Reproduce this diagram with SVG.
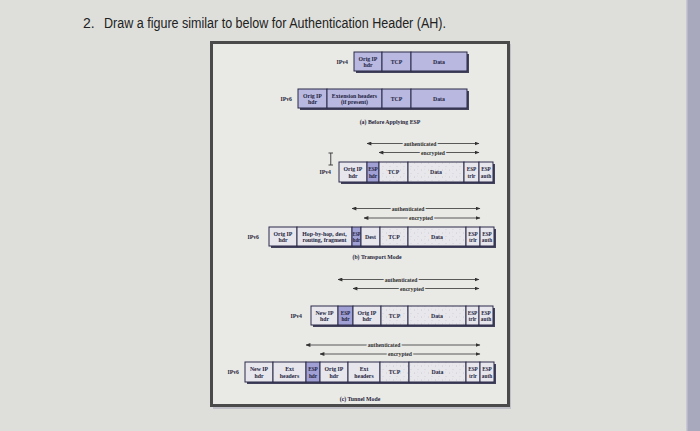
<svg xmlns="http://www.w3.org/2000/svg" width="700" height="431" viewBox="0 0 700 431">
<defs>
<style>
.t{font-family:"Liberation Serif",serif;font-weight:bold;font-size:5.8px;fill:#1e1e40;text-anchor:middle}
.s{font-size:5.3px}
.lb{font-family:"Liberation Serif",serif;font-weight:bold;font-size:5.8px;fill:#26263a;text-anchor:end}
.cap{font-family:"Liberation Serif",serif;font-weight:bold;font-size:5.8px;fill:#26263a;text-anchor:middle}
.al{font-family:"Liberation Serif",serif;font-weight:bold;font-size:5.6px;fill:#2e2e2e;text-anchor:middle;paint-order:stroke;stroke:#e9e9e6;stroke-width:3px}
.b{stroke:#2a2a48;stroke-width:1}
.lav{fill:#b8b8e0}
.esp{fill:#a0a0d4}
.pl{fill:#e6e6ec}
.sp{fill:url(#speck)}
.sh{fill:#42425c}
.ar{stroke:#333;stroke-width:0.8;fill:none;marker-start:url(#ah);marker-end:url(#ah)}
</style>
<pattern id="speck" width="7" height="7" patternUnits="userSpaceOnUse">
<rect width="7" height="7" fill="#e8e8ec"/>
<circle cx="1.5" cy="2" r="0.45" fill="#a8a8b4"/>
<circle cx="5" cy="5.5" r="0.4" fill="#b4b4c0"/>
<circle cx="4.5" cy="1" r="0.35" fill="#b8b8c4"/>
</pattern>
<marker id="ah" viewBox="0 0 6 5" refX="5.5" refY="2.5" markerWidth="5" markerHeight="4" markerUnits="userSpaceOnUse" orient="auto-start-reverse">
<path d="M0,0 L6,2.5 L0,5 z" fill="#333"/>
</marker>
</defs>
<rect width="700" height="431" fill="#dedfdb"/>
<rect x="687" y="0" width="13" height="431" fill="#a9a9bd"/>
<rect x="686" y="0" width="1.5" height="431" fill="#c8c8d4"/>
<text x="83" y="28" font-family="Liberation Sans, sans-serif" font-size="14" fill="#222">2.</text>
<text x="104" y="28" font-family="Liberation Sans, sans-serif" font-size="14" fill="#222" textLength="342" lengthAdjust="spacingAndGlyphs">Draw a figure similar to below for Authentication Header (AH).</text>
<rect x="213" y="44" width="298" height="365" fill="#a0a0b4" opacity="0.5"/>
<rect x="211.5" y="42.5" width="297" height="363" fill="#e9e9e6" stroke="#4a4a4a" stroke-width="3"/>

<g id="r1-label"><text class="lb" x="348" y="63.5">IPv4</text></g>
<rect class="sh" x="356" y="54" width="113" height="19"/>
<g id="r1-orig"><rect class="b lav" x="354" y="52" width="28" height="19"/><text class="t" x="368" y="60.5">Orig IP</text><text class="t" x="368" y="67">hdr</text></g>
<g id="r1-tcp"><rect class="b lav" x="382" y="52" width="29" height="19"/><text class="t" x="396.5" y="63.5">TCP</text></g>
<g id="r1-data"><rect class="b lav" x="411" y="52" width="56" height="19"/><text class="t" x="439" y="63.5">Data</text></g>

<g id="r2-label"><text class="lb" x="292" y="100.5">IPv6</text></g>
<rect class="sh" x="300" y="91" width="169" height="19"/>
<g id="r2-orig"><rect class="b lav" x="298" y="89" width="29" height="19"/><text class="t" x="312.5" y="97.5">Orig IP</text><text class="t" x="312.5" y="104">hdr</text></g>
<g id="r2-ext"><rect class="b lav" x="327" y="89" width="55" height="19"/><text class="t" x="354.5" y="97.5">Extension headers</text><text class="t" x="354.5" y="104">(if present)</text></g>
<g id="r2-tcp"><rect class="b lav" x="382" y="89" width="29" height="19"/><text class="t" x="396.5" y="100.5">TCP</text></g>
<g id="r2-data"><rect class="b lav" x="411" y="89" width="56" height="19"/><text class="t" x="439" y="100.5">Data</text></g>
<text class="cap" x="390" y="124">(a) Before Applying ESP</text>

<g id="connectors">
<line class="ar" x1="367" y1="143.5" x2="479" y2="143.5"/>
<line class="ar" x1="379" y1="152.5" x2="479" y2="152.5"/>
<line class="ar" x1="352" y1="208.5" x2="480" y2="208.5"/>
<line class="ar" x1="364" y1="218" x2="480" y2="218"/>
<line class="ar" x1="338" y1="279.5" x2="479" y2="279.5"/>
<line class="ar" x1="353" y1="288.5" x2="479" y2="288.5"/>
<line class="ar" x1="306" y1="345" x2="480" y2="345"/>
<line class="ar" x1="320" y1="354" x2="480" y2="354"/>
</g>
<text class="al" x="420" y="145.5">authenticated</text>
<text class="al" x="433" y="154.5">encrypted</text>
<text class="al" x="408" y="210.5">authenticated</text>
<text class="al" x="421" y="220">encrypted</text>
<text class="al" x="401" y="281.5">authenticated</text>
<text class="al" x="412" y="290.5">encrypted</text>
<text class="al" x="384" y="347">authenticated</text>
<text class="al" x="400" y="356">encrypted</text>

<g id="cursor" stroke="#333" stroke-width="0.9" fill="none"><path d="M328.5,153 H333 M330.75,153 V165 M328.5,165 H333"/></g>
<g id="r3-label"><text class="lb" x="331" y="174">IPv4</text></g>
<rect class="sh" x="341" y="164" width="154" height="20"/>
<g id="r3-orig"><rect class="b pl" x="339" y="162" width="28" height="20"/><text class="t" x="353" y="171">Orig IP</text><text class="t" x="353" y="177.5">hdr</text></g>
<g id="r3-esph"><rect class="b esp" x="367" y="162" width="12" height="20"/><text class="t s" x="373" y="171">ESP</text><text class="t s" x="373" y="177.5">hdr</text></g>
<g id="r3-tcp"><rect class="b sp" x="379" y="162" width="29" height="20"/><text class="t" x="393.5" y="174">TCP</text></g>
<g id="r3-data"><rect class="b sp" x="408" y="162" width="56" height="20"/><text class="t" x="436" y="174">Data</text></g>
<g id="r3-trlr"><rect class="b pl" x="464" y="162" width="15" height="20"/><text class="t s" x="471.5" y="171">ESP</text><text class="t s" x="471.5" y="177.5">trlr</text></g>
<g id="r3-auth"><rect class="b pl" x="479" y="162" width="14" height="20"/><text class="t s" x="486" y="171">ESP</text><text class="t s" x="486" y="177.5">auth</text></g>

<g id="r4-label"><text class="lb" x="259" y="238.5">IPv6</text></g>
<rect class="sh" x="271" y="229" width="225" height="19"/>
<g id="r4-orig"><rect class="b pl" x="269" y="227" width="28" height="19"/><text class="t" x="283" y="235.5">Orig IP</text><text class="t" x="283" y="242">hdr</text></g>
<g id="r4-hop"><rect class="b pl" x="297" y="227" width="55" height="19"/><text class="t" x="324.5" y="235.5">Hop-by-hop, dest,</text><text class="t" x="324.5" y="242">routing, fragment</text></g>
<g id="r4-esph"><rect class="b esp" x="352" y="227" width="9" height="19"/><text class="t s" x="356.5" y="235.5" textLength="8" lengthAdjust="spacingAndGlyphs">ESP</text><text class="t s" x="356.5" y="242" textLength="7.5" lengthAdjust="spacingAndGlyphs">hdr</text></g>
<g id="r4-dest"><rect class="b pl" x="361" y="227" width="19" height="19"/><text class="t" x="370.5" y="238.5">Dest</text></g>
<g id="r4-tcp"><rect class="b sp" x="380" y="227" width="28" height="19"/><text class="t" x="394" y="238.5">TCP</text></g>
<g id="r4-data"><rect class="b sp" x="408" y="227" width="58" height="19"/><text class="t" x="437" y="238.5">Data</text></g>
<g id="r4-trlr"><rect class="b pl" x="466" y="227" width="14" height="19"/><text class="t s" x="473" y="235.5">ESP</text><text class="t s" x="473" y="242">trlr</text></g>
<g id="r4-auth"><rect class="b pl" x="480" y="227" width="14" height="19"/><text class="t s" x="487" y="235.5">ESP</text><text class="t s" x="487" y="242">auth</text></g>
<text class="cap" x="377" y="259">(b) Transport Mode</text>

<g id="r5-label"><text class="lb" x="302" y="317.5">IPv4</text></g>
<rect class="sh" x="313" y="308" width="182" height="19"/>
<g id="r5-new"><rect class="b pl" x="311" y="306" width="27" height="19"/><text class="t" x="324.5" y="314.5">New IP</text><text class="t" x="324.5" y="321">hdr</text></g>
<g id="r5-esph"><rect class="b esp" x="338" y="306" width="15" height="19"/><text class="t s" x="345.5" y="314.5">ESP</text><text class="t s" x="345.5" y="321">hdr</text></g>
<g id="r5-orig"><rect class="b pl" x="353" y="306" width="28" height="19"/><text class="t" x="367" y="314.5">Orig IP</text><text class="t" x="367" y="321">hdr</text></g>
<g id="r5-tcp"><rect class="b sp" x="381" y="306" width="27" height="19"/><text class="t" x="394.5" y="317.5">TCP</text></g>
<g id="r5-data"><rect class="b sp" x="408" y="306" width="58" height="19"/><text class="t" x="437" y="317.5">Data</text></g>
<g id="r5-trlr"><rect class="b pl" x="466" y="306" width="13" height="19"/><text class="t s" x="472.5" y="314.5">ESP</text><text class="t s" x="472.5" y="321">trlr</text></g>
<g id="r5-auth"><rect class="b pl" x="479" y="306" width="14" height="19"/><text class="t s" x="486" y="314.5">ESP</text><text class="t s" x="486" y="321">auth</text></g>

<g id="r6-label"><text class="lb" x="239" y="374">IPv6</text></g>
<rect class="sh" x="247" y="364" width="249" height="20"/>
<g id="r6-new"><rect class="b pl" x="245" y="362" width="28" height="20"/><text class="t" x="259" y="371">New IP</text><text class="t" x="259" y="377.5">hdr</text></g>
<g id="r6-ext1"><rect class="b pl" x="273" y="362" width="33" height="20"/><text class="t" x="289.5" y="371">Ext</text><text class="t" x="289.5" y="377.5">headers</text></g>
<g id="r6-esph"><rect class="b esp" x="306" y="362" width="14" height="20"/><text class="t s" x="313" y="371">ESP</text><text class="t s" x="313" y="377.5">hdr</text></g>
<g id="r6-orig"><rect class="b pl" x="320" y="362" width="28" height="20"/><text class="t" x="334" y="371">Orig IP</text><text class="t" x="334" y="377.5">hdr</text></g>
<g id="r6-ext2"><rect class="b pl" x="348" y="362" width="32" height="20"/><text class="t" x="364" y="371">Ext</text><text class="t" x="364" y="377.5">headers</text></g>
<g id="r6-tcp"><rect class="b sp" x="380" y="362" width="29" height="20"/><text class="t" x="394.5" y="374">TCP</text></g>
<g id="r6-data"><rect class="b sp" x="409" y="362" width="57" height="20"/><text class="t" x="437.5" y="374">Data</text></g>
<g id="r6-trlr"><rect class="b pl" x="466" y="362" width="14" height="20"/><text class="t s" x="473" y="371">ESP</text><text class="t s" x="473" y="377.5">trlr</text></g>
<g id="r6-auth"><rect class="b pl" x="480" y="362" width="14" height="20"/><text class="t s" x="487" y="371">ESP</text><text class="t s" x="487" y="377.5">auth</text></g>
<text class="cap" x="360" y="401">(c) Tunnel Mode</text>
</svg>
